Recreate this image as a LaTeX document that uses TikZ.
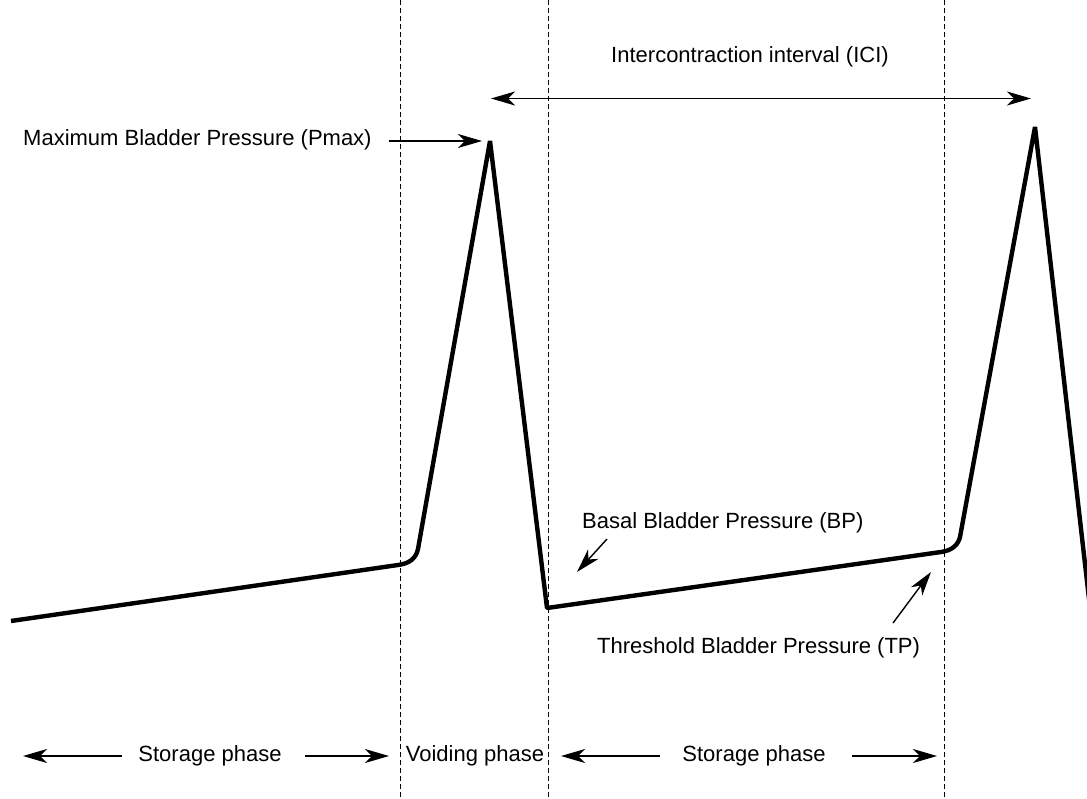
\documentclass[tikz,border=0pt]{standalone}
\usepackage{fontspec}
\setmainfont{Liberation Sans}
\usetikzlibrary{arrows.meta}
\begin{document}
\begin{tikzpicture}[x=1pt,y=-1pt,
  lbl/.style={inner sep=0pt, font=\fontsize{22}{26}\selectfont},
  pointer/.style={line width=1.4pt, -{Stealth[length=24pt,width=14pt,inset=7pt]}},
  twoway/.style={line width=1.4pt, {Stealth[length=24pt,width=14pt,inset=7pt]}-{Stealth[length=24pt,width=14pt,inset=7pt]}},
  phase/.style={line width=1pt, dash pattern=on 5pt off 3pt},
  trace/.style={line width=4.4pt, line join=bevel}]
\useasboundingbox (0,0) rectangle (1087,798);
\clip (0,0) rectangle (1087,798);

% phase boundaries
\coordinate (b1top) at (400,0);   \coordinate (b1bot) at (400,798);
\coordinate (b2top) at (548,0);   \coordinate (b2bot) at (548,798);
\coordinate (b3top) at (944,0);   \coordinate (b3bot) at (944,798);
\draw[phase] (b1top) -- (b1bot);
\draw[phase] (b2top) -- (b2bot);
\draw[phase] (b3top) -- (b3bot);

% pressure trace
\coordinate (peak1) at (490,141);
\coordinate (low1) at (547,608);
\coordinate (peak2) at (1035,127);
\draw[trace] (11,621) -- (398,565)
  .. controls (410,563.5) and (416,558) .. (418,549)
  -- (peak1) -- (low1) -- (941,552)
  .. controls (952,550.5) and (958,545) .. (960,537)
  -- (peak2) -- (1092,625);

% intercontraction interval
\node[lbl] (ici) at (750,57) {Intercontraction interval (ICI)};
\coordinate (icil) at (491,98.5);
\coordinate (icir) at (1031,98.5);
\draw[twoway] (icil) -- (icir);

% maximum pressure
\node[lbl, anchor=west] (pmax) at (23,140) {Maximum Bladder Pressure (Pmax)};
\coordinate (pmaxtail) at (389,141);
\coordinate (pmaxhead) at (482,141);
\draw[pointer] (pmaxtail) -- (pmaxhead);

% basal pressure
\node[lbl, anchor=west] (bp) at (582,523) {Basal Bladder Pressure (BP)};
\coordinate (bptail) at (607,539);
\coordinate (bphead) at (577,572);
\draw[pointer] (bptail) -- (bphead);

% threshold pressure
\node[lbl, anchor=west] (tp) at (597,648) {Threshold Bladder Pressure (TP)};
\coordinate (tptail) at (893,623);
\coordinate (tphead) at (931,572);
\draw[pointer] (tptail) -- (tphead);

% phase labels
\node[lbl] (st1) at (210,756) {Storage phase};
\coordinate (st1l) at (23,756);  \coordinate (st1a) at (122,756);
\coordinate (st1b) at (305,756); \coordinate (st1r) at (389,756);
\draw[pointer] (st1a) -- (st1l);
\draw[pointer] (st1b) -- (st1r);

\node[lbl] (vd) at (475,756) {Voiding phase};

\node[lbl] (st2) at (754,756) {Storage phase};
\coordinate (st2l) at (561,756); \coordinate (st2a) at (660,756);
\coordinate (st2b) at (852,756); \coordinate (st2r) at (937,756);
\draw[pointer] (st2a) -- (st2l);
\draw[pointer] (st2b) -- (st2r);
\end{tikzpicture}
\end{document}
